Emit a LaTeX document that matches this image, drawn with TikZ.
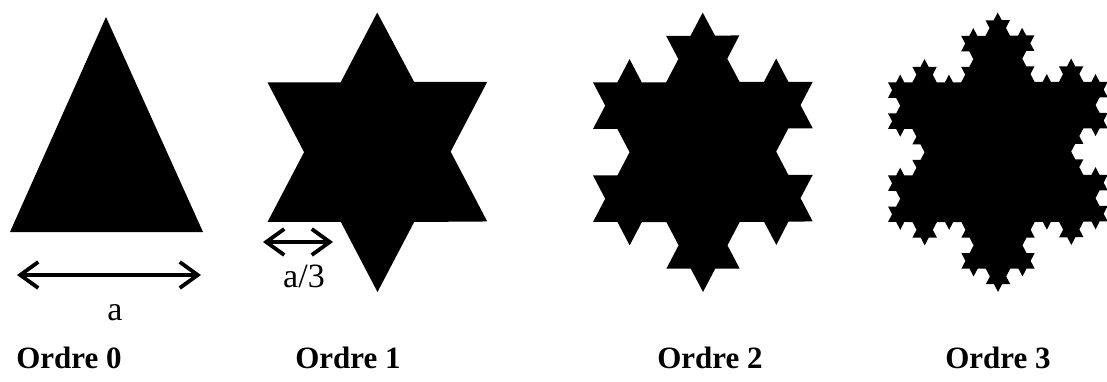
\documentclass[tikz,border=0pt]{standalone}
\usepackage{fontspec}
\setmainfont{Liberation Serif}
\usetikzlibrary{arrows.meta,decorations.fractals}

\begin{document}
\begin{tikzpicture}[
    x=0.5pt, y=0.5pt,
    flake/.style={fill=black, decoration=Koch snowflake},
    dim/.style={<->, >={Straight Barb[length=9pt,width=13pt]}, line width=1.9pt},
    lbl/.style={font=\fontsize{17}{20}\selectfont, anchor=base},
    ttl/.style={font=\fontsize{15.5}{18}\selectfont\bfseries, anchor=base}
  ]
    \useasboundingbox (0,0) rectangle (1107,381);

    % --- Ordre 0 ---
    \fill (10,149) -- (106,364) -- (203,149) -- cycle;
    \coordinate (a0l) at (17,106);
    \coordinate (a0r) at (201,106);
    \draw[dim] (a0l) -- (a0r);
    \node[lbl] (la) at (115,61) {a};

    % --- Ordre 1 to 3, stretched a bit in y ---
    \begin{scope}[transform canvas={yscale=1.1022}]
      \fill[flake] decorate{ (267.5,144.26) -- ++(60:220) -- ++(-60:220) -- (267.5,144.26) };
      \fill[flake] decorate{ decorate{ (593,144.26) -- ++(60:220) -- ++(-60:220) -- (593,144.26) }};
      \fill[flake] decorate{ decorate{ decorate{ (888,144.26) -- ++(60:220) -- ++(-60:220) -- (888,144.26) }}};
    \end{scope}

    \coordinate (a1l) at (263,139);
    \coordinate (a1r) at (333,139);
    \draw[dim] (a1l) -- (a1r);
    \node[lbl] (la3) at (304,94) {a/3};

    % --- titles ---
    \foreach \k/\x in {0/69, 1/348, 2/710, 3/998}
      \node[ttl] (ordre\k) at (\x,13) {Ordre \k};
  \end{tikzpicture}
\end{document}
